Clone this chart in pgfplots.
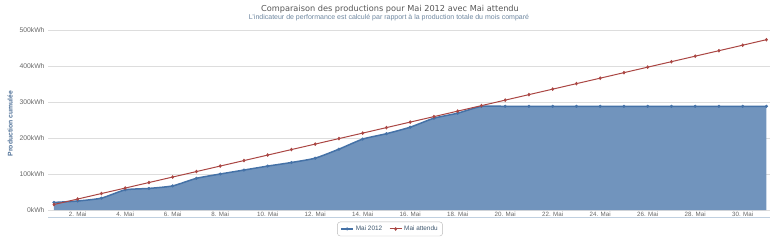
\documentclass[border=0pt]{standalone}
\usepackage{fontspec}
\setmainfont{Liberation Sans}
\newfontfamily\dejavu{DejaVu Sans}
\usepackage{pgfplots}
\pgfplotsset{compat=1.18}
\usepgfplotslibrary{fillbetween}
\definecolor{hcblue}{HTML}{4572A7}
\definecolor{hcfill}{HTML}{7194BD}
\definecolor{hcred}{HTML}{AA4643}
\definecolor{titlec}{HTML}{555555}
\definecolor{subc}{HTML}{6D869F}
\definecolor{ylabc}{HTML}{4D6F96}
\definecolor{legc}{HTML}{3E576F}
\definecolor{axc}{HTML}{C0D0E0}
\definecolor{gridc}{HTML}{DDDDDD}
\definecolor{tickc}{HTML}{666666}
\begin{document}
\begin{tikzpicture}
\path (0,0) rectangle (780pt,244pt);
\node[font=\dejavu\fontsize{8.2}{10}\selectfont, text=titlec] at (390pt,235pt) {Comparaison des productions pour Mai 2012 avec Mai attendu};
\node[font=\fontsize{7}{8}\selectfont, text=subc] at (389pt,226pt) {L'indicateur de performance est calculé par rapport à la production totale du mois comparé};
\begin{axis}[
  at={(48pt,27pt)}, anchor=south west,
  scale only axis, width=722pt, height=187pt,
  xmin=0.75, xmax=31.15, ymin=-19.4, ymax=500,
  axis x line*=bottom, axis y line*=left,
  x axis line style={draw=axc, line width=0.8pt, -},
  y axis line style={draw=none},
  xtick={2,4,...,30},
  xticklabels={2. Mai,4. Mai,6. Mai,8. Mai,10. Mai,12. Mai,14. Mai,16. Mai,18. Mai,20. Mai,22. Mai,24. Mai,26. Mai,28. Mai,30. Mai},
  xticklabel style={font=\fontsize{6.2}{7}\selectfont, text=tickc, anchor=center, yshift=2.6pt},
  xtick style={draw=none},
  ytick={0,100,200,300,400,500},
  yticklabels={0kWh,100kWh,200kWh,300kWh,400kWh,500kWh},
  yticklabel style={font=\fontsize{6.8}{8}\selectfont, text=tickc},
  ytick style={draw=none},
  ymajorgrids, grid style={draw=gridc, line width=0.6pt},
  ylabel={\textbf{Production cumulée}},
  ylabel style={font=\fontsize{6.8}{8}\selectfont, text=ylabc},
  legend style={at={(0.4737,-0.064)}, anchor=center, legend columns=2, draw=gray!55, rounded corners=3pt, font=\fontsize{6.4}{7}\selectfont, text=legc, inner xsep=3pt, inner ysep=2pt, /tikz/every even column/.append style={column sep=5pt}},
  legend cell align=left,
  legend image code/.code={\draw[mark repeat=2, mark phase=2, #1] plot coordinates {(0pt,0pt) (6pt,0pt) (12pt,0pt)};},
]
\addplot[name path=zero, draw=none, forget plot] coordinates {(1,0) (31,0)};
\addplot[name path=prod, hcblue, line width=1.5pt, smooth, tension=0.35, mark=*, mark size=1.3pt, mark options={fill=hcblue, draw=hcblue, line width=0.5pt}] coordinates {
(1,21) (2,25) (3,33) (4,56) (5,60) (6,67) (7,88) (8,100) (9,111) (10,122)
(11,132) (12,144) (13,169) (14,197) (15,212) (16,230) (17,255) (18,269) (19,288) (20,288)
(21,288) (22,288) (23,288) (24,288) (25,288) (26,288) (27,288) (28,288) (29,288) (30,288) (31,288)};
\addlegendentry{Mai 2012}
\addplot[hcfill, forget plot] fill between[of=prod and zero];
\addplot[hcred, line width=1pt, mark=diamond*, mark size=1.5pt, mark options={fill=hcred, draw=hcred, line width=0.5pt}] coordinates {
(1,15.3) (2,30.5) (3,45.8) (4,61.0) (5,76.3) (6,91.6) (7,106.8) (8,122.1) (9,137.3) (10,152.6)
(11,167.9) (12,183.1) (13,198.4) (14,213.6) (15,228.9) (16,244.2) (17,259.4) (18,274.7) (19,289.9) (20,305.2)
(21,320.5) (22,335.7) (23,351.0) (24,366.2) (25,381.5) (26,396.8) (27,412.0) (28,427.3) (29,442.5) (30,457.8) (31,473.1)};
\addlegendentry{Mai attendu}
\end{axis}
\end{tikzpicture}
\end{document}
